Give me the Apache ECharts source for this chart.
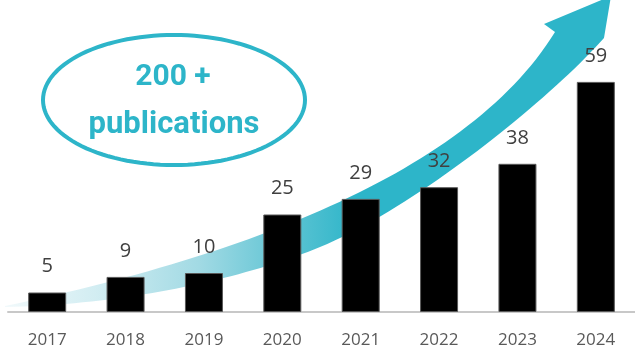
<!DOCTYPE html>
<html>
<head>
<meta charset="utf-8">
<script src="https://cdn.jsdelivr.net/npm/echarts@6/dist/echarts.min.js"></script>
<style>
  html, body { margin: 0; padding: 0; background: #fff; }
  #chart { width: 635px; height: 351px; }
</style>
</head>
<body>
<div id="chart"></div>
<script>
// data
var years = ["2017", "2018", "2019", "2020", "2021", "2022", "2023", "2024"];
var publications = [5, 9, 10, 25, 29, 32, 38, 59];

var teal = "#2db5c9";

var myChart = echarts.init(document.getElementById("chart"));

// sample a cubic bezier into points
function cubic(p0, p1, p2, p3, n) {
  var pts = [];
  for (var i = 0; i <= n; i++) {
    var t = i / n, u = 1 - t;
    pts.push([
      u * u * u * p0[0] + 3 * u * u * t * p1[0] + 3 * u * t * t * p2[0] + t * t * t * p3[0],
      u * u * u * p0[1] + 3 * u * u * t * p1[1] + 3 * u * t * t * p2[1] + t * t * t * p3[1]
    ]);
  }
  return pts;
}

// curved arrow behind the bars (decoration)
var arrowPts = []
  .concat(cubic([5, 306], [250, 255], [470, 170], [555, 32], 60))
  .concat([[544, 24], [611, -4], [604, 38]])
  .concat(cubic([604, 38], [548, 101], [416, 207], [320, 247], 40))
  .concat(cubic([320, 247], [240, 280], [120, 305], [5, 307], 40));

// oval round the note
var ovalPts = [];
for (var i = 0; i < 120; i++) {
  var a = (i / 120) * Math.PI * 2;
  ovalPts.push([174 + 131 * Math.cos(a), 100 + 65 * Math.sin(a)]);
}

myChart.setOption({
  animation: false,
  grid: {
    left: 8,
    right: 0,
    top: 39,
    bottom: 39
  },
  xAxis: {
    type: "category",
    data: years,
    axisTick: { show: false },
    axisLine: { lineStyle: { color: "#c8c8c8", width: 2 } },
    axisLabel: {
      margin: 20,
      fontSize: 17,
      color: "#595959",
      fontFamily: "Open Sans"
    }
  },
  yAxis: {
    type: "value",
    min: 0,
    max: 70,
    show: false,
    splitLine: { show: false }
  },
  graphic: [
    {
      type: "polygon",
      z: 0,
      silent: true,
      shape: { points: arrowPts },
      style: {
        fill: {
          type: "linear",
          x: 0, y: 0, x2: 1, y2: 0,
          colorStops: [
            { offset: 0, color: "#f1f9fb" },
            { offset: 0.15, color: "#d2edf2" },
            { offset: 0.32, color: "#a2dae4" },
            { offset: 0.48, color: "#58c2d2" },
            { offset: 0.58, color: teal },
            { offset: 1, color: teal }
          ]
        }
      }
    },
    {
      type: "polygon",
      z: 5,
      silent: true,
      shape: { points: ovalPts },
      style: { fill: "#fff", stroke: teal, lineWidth: 4 }
    },
    {
      type: "text",
      z: 6,
      x: 173,
      y: 77,
      style: {
        text: "200 +",
        fill: teal,
        font: "bold 30px Roboto",
        textAlign: "center",
        textVerticalAlign: "middle"
      }
    },
    {
      type: "text",
      z: 6,
      x: 174,
      y: 125,
      style: {
        text: "publications",
        fill: teal,
        font: "bold 31px Roboto",
        textAlign: "center",
        textVerticalAlign: "middle"
      }
    }
  ],
  series: [
    {
      name: "publications",
      type: "bar",
      data: publications,
      barWidth: 38,
      z: 2,
      itemStyle: {
        color: "#000",
        borderColor: "#595959",
        borderWidth: 1
      },
      label: {
        show: true,
        position: "top",
        distance: 16,
        fontSize: 20,
        color: "#404040",
        fontFamily: "Open Sans"
      }
    }
  ]
});
</script>
</body>
</html>
